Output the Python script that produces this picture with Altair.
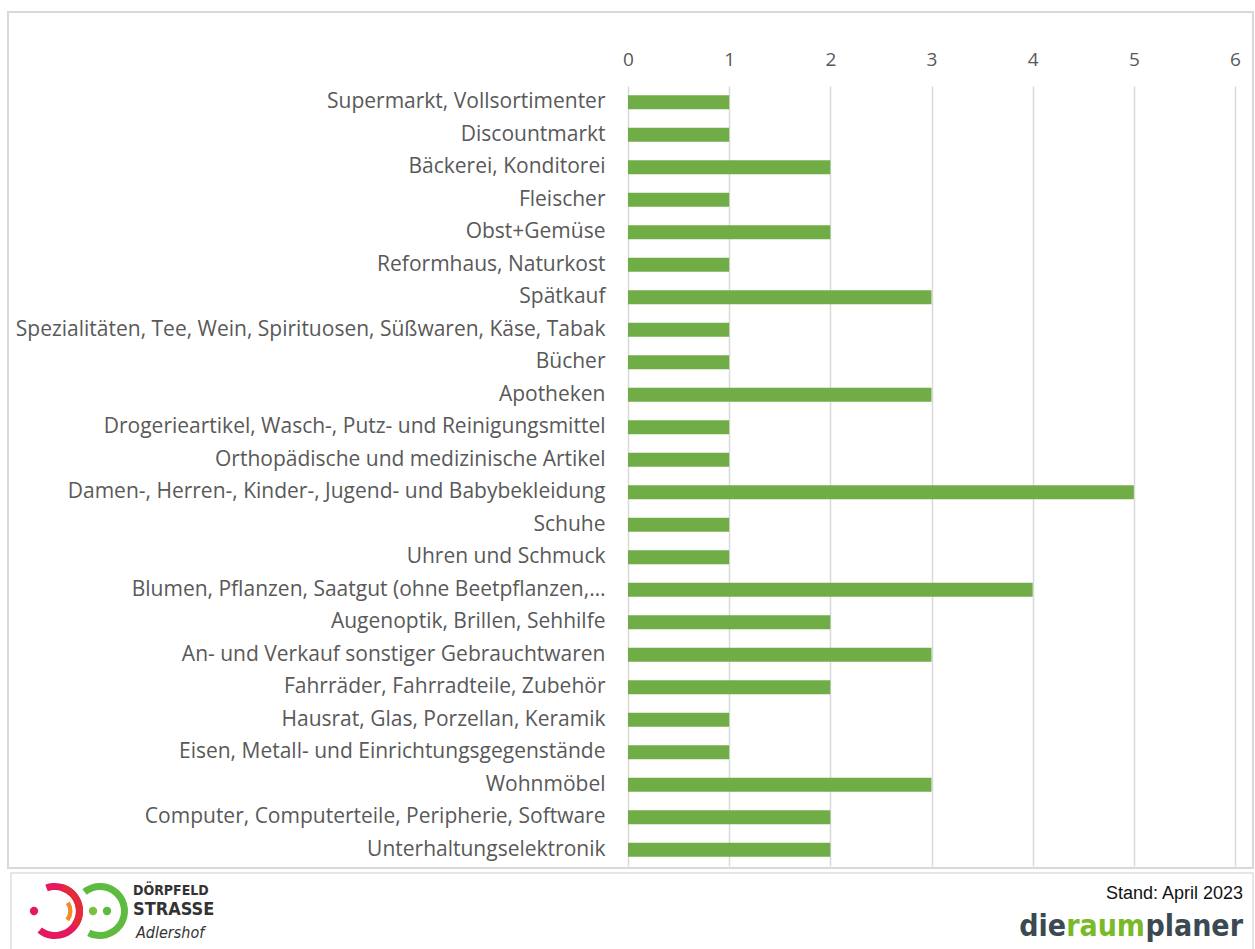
import altair as alt
import pandas as pd

categories = [
    "Supermarkt, Vollsortimenter",
    "Discountmarkt",
    "Bäckerei, Konditorei",
    "Fleischer",
    "Obst+Gemüse",
    "Reformhaus, Naturkost",
    "Spätkauf",
    "Spezialitäten, Tee, Wein, Spirituosen, Süßwaren, Käse, Tabak",
    "Bücher",
    "Apotheken",
    "Drogerieartikel, Wasch-, Putz- und Reinigungsmittel",
    "Orthopädische und medizinische Artikel",
    "Damen-, Herren-, Kinder-, Jugend- und Babybekleidung",
    "Schuhe",
    "Uhren und Schmuck",
    "Blumen, Pflanzen, Saatgut (ohne Beetpflanzen,…",
    "Augenoptik, Brillen, Sehhilfe",
    "An- und Verkauf sonstiger Gebrauchtwaren ",
    "Fahrräder, Fahrradteile, Zubehör",
    "Hausrat, Glas, Porzellan, Keramik",
    "Eisen, Metall- und Einrichtungsgegenstände",
    "Wohnmöbel",
    "Computer, Computerteile, Peripherie, Software",
    "Unterhaltungselektronik",
]
values = [1, 1, 2, 1, 2, 1, 3, 1, 1, 3, 1, 1, 5, 1, 1, 4, 2, 3, 2, 1, 1, 3, 2, 2]
x_ticks = [0, 1, 2, 3, 4, 5, 6]

df = pd.DataFrame({"cat": categories, "val": values})

OX, OY = 628, 86  # plot origin in page pixels
W, H = 607, 780

def px(x):
    return x - OX

def py(y):
    return y - OY

one = pd.DataFrame({"d": [0]})

bars = alt.Chart(df).mark_bar(color="#70AD47").encode(
    x=alt.X("val:Q",
            scale=alt.Scale(domain=[0, 6], nice=False, zero=True),
            axis=alt.Axis(orient="top", values=x_ticks, format="d", title=None,
                          domain=False, ticks=False, labelFont="Open Sans",
                          labelFontSize=19, labelColor="#595959", labelPadding=17,
                          labelFlush=False,
                          grid=True, gridColor="#D9D9D9", gridWidth=1.5)),
    y=alt.Y("cat:N", sort=categories,
            scale=alt.Scale(paddingInner=0.57, paddingOuter=0.285),
            axis=alt.Axis(title=None, domain=False, ticks=False, grid=False,
                          labelFont="Open Sans", labelFontSize=21,
                          labelColor="#595959", labelPadding=23, labelLimit=800)),
)

# outer frame of chart
frame = alt.Chart(one).mark_rect(fill=None, stroke="#D9D9D9", strokeWidth=2).encode(
    x=alt.value(px(8)), x2=alt.value(px(1253)),
    y=alt.value(py(12)), y2=alt.value(py(868)),
)
footer = alt.Chart(one).mark_rect(fill="#FFFFFF", stroke="#E6E6E6", strokeWidth=2).encode(
    x=alt.value(px(11)), x2=alt.value(px(1253)),
    y=alt.value(py(873)), y2=alt.value(py(960)),
)

def arc(cx, cy, r1, r2, t1, t2, color):
    return alt.Chart(one).mark_arc(
        x=px(cx), y=py(cy), radius=r1, radius2=r2, theta=t1, theta2=t2,
    ).encode(color=alt.value(color))

def dot(cx, cy, size, color):
    return alt.Chart(one).mark_point(filled=True, size=size, opacity=1).encode(
        x=alt.value(px(cx)), y=alt.value(py(cy)), color=alt.value(color))

logo = [
    arc(55, 911, 21, 28, 5.93, 10.1, "#E5195E"),
    arc(55, 911, 21, 28, 0.3, 2.2, "#E52A3A"),
    arc(55, 911, 13, 17.5, 1.0, 2.2, "#F28C28"),
    arc(100, 911, 21, 28, 5.6, 9.9, "#5DBB3F"),
    dot(34, 911, 70, "#E5195E"),
    dot(93, 911, 70, "#7AC143"),
    dot(107, 911, 70, "#5DBB3F"),
]

def text(t, x, y, size, color="#000000", weight="normal", font="Liberation Sans",
         align="left", style="normal", baseline="middle"):
    return alt.Chart(one).mark_text(
        text=t, x=px(x), y=py(y), fontSize=size, color=color, fontWeight=weight,
        font=font, align=align, fontStyle=style, baseline=baseline,
    ).encode(opacity=alt.value(1))

texts = [
    text("DÖRPFELD", 133, 891, 14, "#333333", "bold", "DejaVu Sans Condensed"),
    text("STRASSE", 133, 910, 18, "#333333", "bold", "DejaVu Sans Condensed"),
    text("Adlershof", 136, 933, 16, "#333333", "normal", "DejaVu Sans Condensed",
         style="italic"),
    text("Stand: April 2023", 1243, 894, 18, "#111111", "normal",
         "Liberation Sans", align="right"),
    text("die", 1066, 927, 30, "#3B4A52", "bold", "DejaVu Sans Condensed",
         align="right"),
    text("raum", 1145, 927, 30, "#7AB929", "bold", "DejaVu Sans Condensed",
         align="right"),
    text("planer", 1243, 927, 30, "#3B4A52", "bold", "DejaVu Sans Condensed",
         align="right"),
]

chart = alt.layer(frame, bars, footer, *logo, *texts).properties(
    width=W, height=H,
    background="#FFFFFF",
    padding={"left": OX, "top": OY, "right": 1255 - OX - W, "bottom": 949 - OY - H},
    autosize=alt.AutoSizeParams(type="none"),
).configure_view(strokeWidth=0, stroke=None)

chart.save("out.html", embed_options={"renderer": "svg", "actions": False})
